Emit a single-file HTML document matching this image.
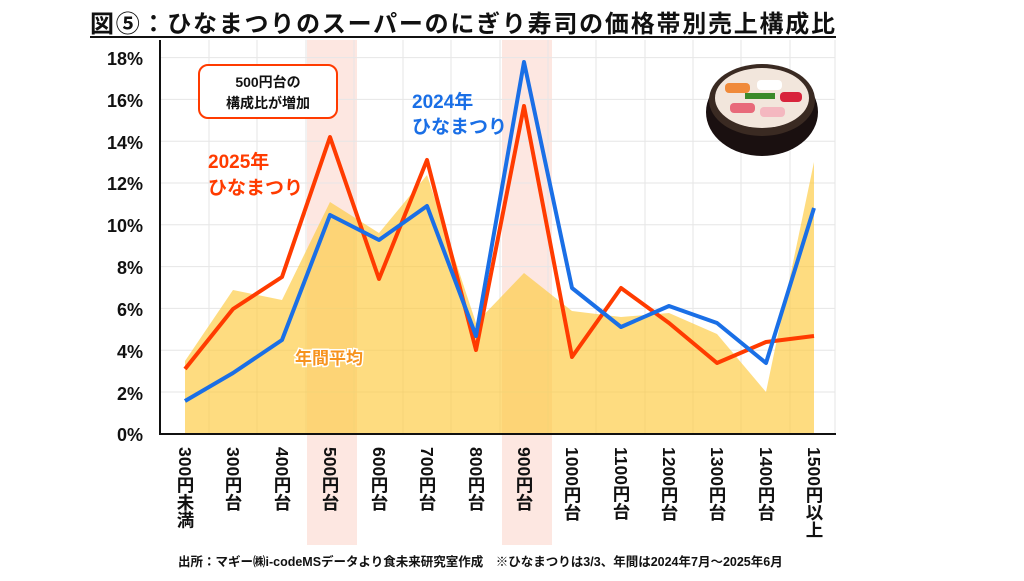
<!DOCTYPE html>
<html><head><meta charset="utf-8"><style>
body{margin:0;width:1024px;height:576px;background:#fff;overflow:hidden}
text{font-family:"Liberation Sans","Noto Sans CJK JP",sans-serif;font-weight:bold}
.xl{writing-mode:vertical-rl;font-size:17.5px}
</style></head><body>
<svg width="1024" height="576" viewBox="0 0 1024 576">
<text x="90" y="32" font-size="24" fill="#111" textLength="745">図⑤：ひなまつりのスーパーのにぎり寿司の価格帯別売上構成比</text>
<line x1="90" y1="37" x2="836" y2="37" stroke="#111" stroke-width="2"/>
<rect x="307" y="40" width="50" height="505" fill="#fde3dc" opacity="0.85"/>
<rect x="502" y="40" width="50" height="505" fill="#fde3dc" opacity="0.85"/>
<g stroke="#e6e6e6" stroke-width="1">
<line x1="160" y1="57.6" x2="835" y2="57.6"/><line x1="160" y1="99.4" x2="835" y2="99.4"/><line x1="160" y1="141.2" x2="835" y2="141.2"/><line x1="160" y1="183" x2="835" y2="183"/><line x1="160" y1="224.8" x2="835" y2="224.8"/><line x1="160" y1="266.6" x2="835" y2="266.6"/><line x1="160" y1="308.4" x2="835" y2="308.4"/><line x1="160" y1="350.2" x2="835" y2="350.2"/><line x1="160" y1="392" x2="835" y2="392"/>
<line x1="209" y1="40" x2="209" y2="434"/><line x1="257" y1="40" x2="257" y2="434"/><line x1="306" y1="40" x2="306" y2="434"/><line x1="354" y1="40" x2="354" y2="434"/><line x1="403" y1="40" x2="403" y2="434"/><line x1="451" y1="40" x2="451" y2="434"/><line x1="500" y1="40" x2="500" y2="434"/><line x1="548" y1="40" x2="548" y2="434"/><line x1="596" y1="40" x2="596" y2="434"/><line x1="645" y1="40" x2="645" y2="434"/><line x1="693" y1="40" x2="693" y2="434"/><line x1="741" y1="40" x2="741" y2="434"/><line x1="790" y1="40" x2="790" y2="434"/><line x1="835" y1="40" x2="835" y2="434"/>
</g>
<polygon fill="#fdc93c" opacity="0.65" points="185,434 185,361 233,290 282,300 330,202 379,233 427,175 476,323 524,273 572,311 621,317 669,313 717,334 766,392 814,162 814,434"/>
<polyline fill="none" stroke="#ff3b00" stroke-width="4" stroke-linejoin="round" points="185,369 233,309 282,277 330,137 379,279 427,160 476,350 524,106 572,357 621,288 669,323 717,363 766,342 814,336"/>
<polyline fill="none" stroke="#1a6fe6" stroke-width="4" stroke-linejoin="round" points="185,401 233,373 282,340 330,215 379,240 427,206 476,336 524,62 572,288 621,327 669,306 717,323 766,363 814,208"/>
<line x1="160" y1="40" x2="160" y2="435" stroke="#111" stroke-width="2"/>
<line x1="159" y1="434" x2="836" y2="434" stroke="#111" stroke-width="2"/>
<g font-size="18" fill="#111" text-anchor="end">
<text x="143" y="65">18%</text><text x="143" y="107">16%</text><text x="143" y="149">14%</text><text x="143" y="190">12%</text><text x="143" y="232">10%</text><text x="143" y="274">8%</text><text x="143" y="316">6%</text><text x="143" y="358">4%</text><text x="143" y="400">2%</text><text x="143" y="441">0%</text>
</g>
<rect x="199" y="65" width="138" height="53" rx="9" fill="#fff" stroke="#ff3b00" stroke-width="2"/>
<text x="268" y="87" font-size="14" text-anchor="middle" fill="#111">500円台の</text>
<text x="268" y="108" font-size="14" text-anchor="middle" fill="#111">構成比が増加</text>
<text x="412" y="108" font-size="19" fill="#1a6fe6">2024年</text>
<text x="412" y="133" font-size="19" fill="#1a6fe6">ひなまつり</text>
<text x="208" y="168" font-size="19" fill="#ff3b00">2025年</text>
<text x="208" y="194" font-size="19" fill="#ff3b00">ひなまつり</text>
<text x="295" y="364" font-size="17" fill="#f7931e" stroke="#fff" stroke-width="3" paint-order="stroke">年間平均</text>
<ellipse cx="762" cy="112" rx="56" ry="44" fill="#1a1010"/>
<ellipse cx="762" cy="100" rx="53" ry="36" fill="#3a2a22"/>
<ellipse cx="762" cy="98" rx="47" ry="30" fill="#f2e6dc"/>
<rect x="725" y="83" width="25" height="10" rx="4" fill="#f08a3a"/><rect x="757" y="80" width="25" height="10" rx="4" fill="#fff"/><rect x="780" y="92" width="22" height="10" rx="4" fill="#d8243c"/>
<rect x="730" y="103" width="25" height="10" rx="4" fill="#e86a7a"/><rect x="760" y="107" width="25" height="10" rx="4" fill="#f4b8c0"/><rect x="745" y="93" width="30" height="6" fill="#3a8a2a"/>
<g fill="#111">
<text class="xl" x="185" y="447">300円未満</text><text class="xl" x="233" y="447">300円台</text><text class="xl" x="282" y="447">400円台</text><text class="xl" x="330" y="447">500円台</text><text class="xl" x="379" y="447">600円台</text><text class="xl" x="427" y="447">700円台</text><text class="xl" x="476" y="447">800円台</text><text class="xl" x="524" y="447">900円台</text><text class="xl" x="572" y="447">1000円台</text><text class="xl" x="621" y="447">1100円台</text><text class="xl" x="669" y="447">1200円台</text><text class="xl" x="717" y="447">1300円台</text><text class="xl" x="766" y="447">1400円台</text><text class="xl" x="814" y="447">1500円以上</text>
</g>
<text x="178" y="566" font-size="12.5" fill="#111">出所：マギー㈱i-codeMSデータより食未来研究室作成　※ひなまつりは3/3、年間は2024年7月～2025年6月</text>
</svg>
</body></html>
